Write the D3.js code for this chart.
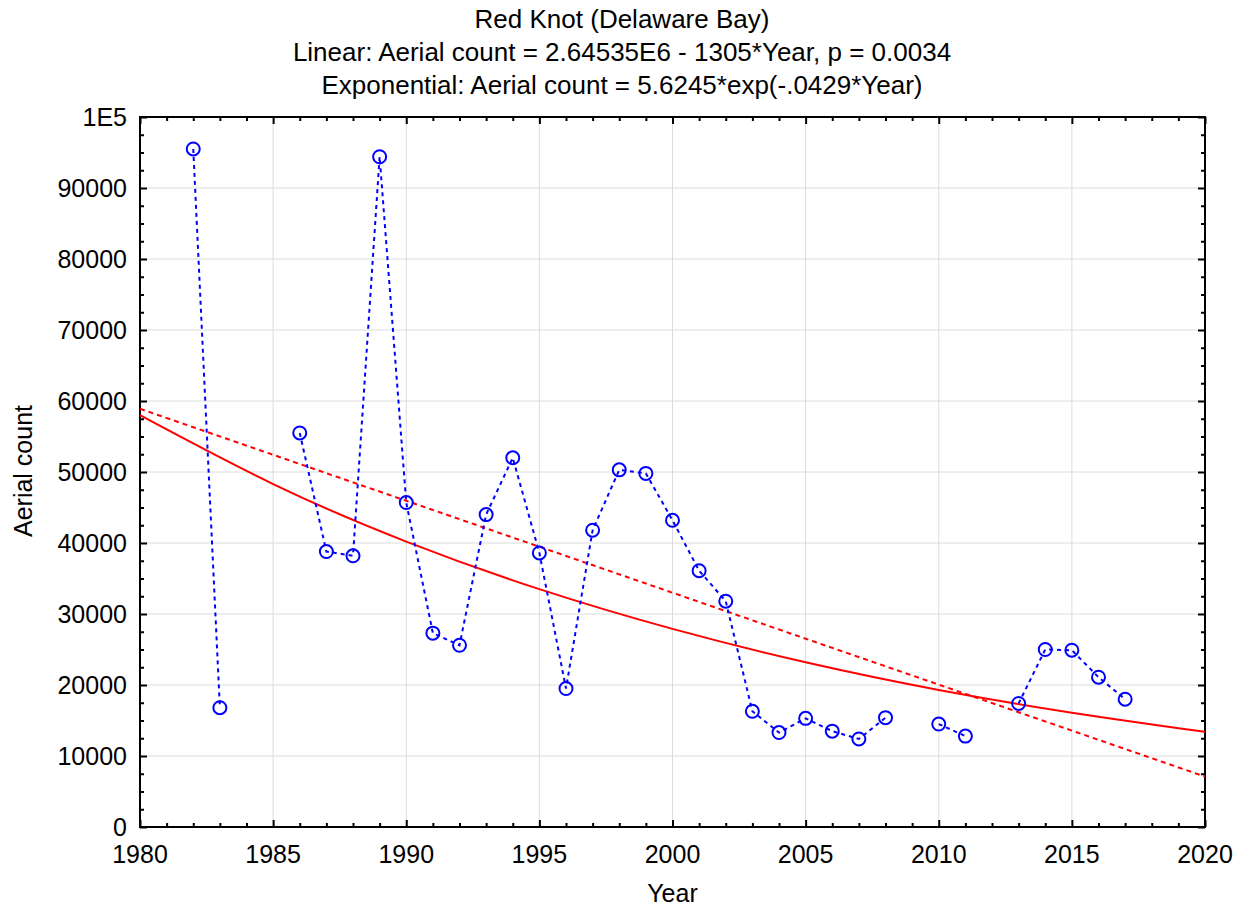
<!DOCTYPE html>
<html>
<head>
<meta charset="utf-8">
<script src="https://cdn.jsdelivr.net/npm/d3@7"></script>
<style>
  body { margin: 0; background: #fff; }
  text { font-family: "Liberation Sans", Arial, sans-serif; fill: #000; }
</style>
</head>
<body>
<div id="chart"></div>
<script>
// observed aerial counts (gaps = years with no survey)
const years = [1982, 1983, 1984, 1985, 1986, 1987, 1988, 1989, 1990, 1991, 1992, 1993, 1994, 1995,
  1996, 1997, 1998, 1999, 2000, 2001, 2002, 2003, 2004, 2005, 2006, 2007, 2008, 2009, 2010,
  2011, 2012, 2013, 2014, 2015, 2016, 2017];
const counts = [95500, 16800, null, null, 55500, 38800, 38200, 94400, 45700, 27300, 25600, 44000,
  52000, 38600, 19500, 41800, 50300, 49800, 43200, 36100, 31800, 16300, 13300, 15300, 13500,
  12400, 15400, null, 14500, 12800, null, 17400, 25000, 24900, 21100, 18000];

// linear fit, read at the ends of the axis
const linYears = [1980, 2020];
const linValues = [58900, 7100];

// exponential fit, read every 5 years
const expYears = [1980, 1985, 1990, 1995, 2000, 2005, 2010, 2015, 2020];
const expValues = [58000, 48300, 40200, 33500, 27900, 23200, 19300, 16100, 13400];

const xTicks = [1980, 1985, 1990, 1995, 2000, 2005, 2010, 2015, 2020];
const yTicks = [0, 10000, 20000, 30000, 40000, 50000, 60000, 70000, 80000, 90000, 100000];
const titleLines = ["Red Knot (Delaware Bay)",
  "Linear: Aerial count = 2.64535E6 - 1305*Year, p = 0.0034",
  "Exponential: Aerial count = 5.6245*exp(-.0429*Year)"];

const W = 1244, H = 909;
const margin = {top: 117, right: 39, bottom: 82, left: 140},
  width = W - margin.left - margin.right,
  height = H - margin.top - margin.bottom;

const svg = d3.select("#chart").append("svg")
  .attr("width", W).attr("height", H);

const g = svg.append("g")
  .attr("transform", `translate(${margin.left}, ${margin.top})`);

const x = d3.scaleLinear().domain([1980, 2020]).range([0, width]);
const y = d3.scaleLinear().domain([0, 100000]).range([height, 0]);

// grid
g.append("g").selectAll("line").data(xTicks.slice(1, -1)).join("line")
  .attr("x1", d => x(d)).attr("x2", d => x(d)).attr("y1", 0).attr("y2", height)
  .attr("stroke", "#dcdcdc").attr("stroke-width", 1);
g.append("g").selectAll("line").data(yTicks.slice(1, -1)).join("line")
  .attr("y1", d => y(d)).attr("y2", d => y(d)).attr("x1", 0).attr("x2", width)
  .attr("stroke", "#dcdcdc").attr("stroke-width", 1);

// inward ticks on all four sides
const xMinor = d3.range(1981, 2020).filter(v => v % 5 !== 0);
const yMinor = d3.range(2500, 100000, 2500).filter(v => v % 10000 !== 0);
function tickAxis(axisFn, scale, vals, size, tr) {
  const a = g.append("g").attr("transform", tr)
    .call(axisFn(scale).tickValues(vals).tickSizeInner(size).tickSizeOuter(0).tickFormat(""));
  a.select(".domain").remove();
  a.selectAll("line").attr("stroke", "#000").attr("stroke-width", 2);
}
tickAxis(d3.axisTop, x, xTicks, 7, `translate(0,${height})`);
tickAxis(d3.axisTop, x, xMinor, 4, `translate(0,${height})`);
tickAxis(d3.axisBottom, x, xTicks, 7, "translate(0,0)");
tickAxis(d3.axisBottom, x, xMinor, 4, "translate(0,0)");
tickAxis(d3.axisRight, y, yTicks, 7, "translate(0,0)");
tickAxis(d3.axisRight, y, yMinor, 4, "translate(0,0)");
tickAxis(d3.axisLeft, y, yTicks, 7, `translate(${width},0)`);
tickAxis(d3.axisLeft, y, yMinor, 4, `translate(${width},0)`);

// frame
g.append("rect").attr("width", width).attr("height", height)
  .attr("fill", "none").attr("stroke", "#000").attr("stroke-width", 2);

// tick labels
g.append("g").selectAll("text").data(xTicks).join("text")
  .attr("x", d => x(d)).attr("y", height + 36)
  .attr("text-anchor", "middle").attr("font-size", 25)
  .text(d => d);
g.append("g").selectAll("text").data(yTicks).join("text")
  .attr("x", -13).attr("y", d => y(d) + 9)
  .attr("text-anchor", "end").attr("font-size", 25)
  .text(d => d === 100000 ? "1E5" : d);

// axis titles
svg.append("text").attr("x", margin.left + width / 2).attr("y", 902)
  .attr("text-anchor", "middle").attr("font-size", 25).text("Year");
svg.append("text").attr("transform", `translate(32, 471) rotate(-90)`)
  .attr("text-anchor", "middle").attr("font-size", 25).text("Aerial count");

// title
svg.append("g").selectAll("text").data(titleLines).join("text")
  .attr("x", W / 2).attr("y", (d, i) => 28 + i * 33)
  .attr("text-anchor", "middle").attr("font-size", 26)
  .text(d => d);

// clip to plot area
g.append("clipPath").attr("id", "clip").append("rect")
  .attr("width", width).attr("height", height);
const plot = g.append("g").attr("clip-path", "url(#clip)");

// exponential fit
plot.append("path")
  .datum(expYears.map((d, i) => [d, expValues[i]]))
  .attr("d", d3.line().x(d => x(d[0])).y(d => y(d[1])).curve(d3.curveNatural))
  .attr("fill", "none").attr("stroke", "#ff0000").attr("stroke-width", 2);

// linear fit
plot.append("path")
  .datum(linYears.map((d, i) => [d, linValues[i]]))
  .attr("d", d3.line().x(d => x(d[0])).y(d => y(d[1])))
  .attr("fill", "none").attr("stroke", "#ff0000").attr("stroke-width", 2)
  .attr("stroke-dasharray", "5,4");

// observed series
const obs = years.map((d, i) => ({year: d, count: counts[i]}));
plot.append("path")
  .datum(obs)
  .attr("d", d3.line().defined(d => d.count !== null).x(d => x(d.year)).y(d => y(d.count)))
  .attr("fill", "none").attr("stroke", "#0000ff").attr("stroke-width", 2)
  .attr("stroke-dasharray", "4,4");

plot.append("g").selectAll("circle").data(obs.filter(d => d.count !== null)).join("circle")
  .attr("cx", d => x(d.year)).attr("cy", d => y(d.count)).attr("r", 6.5)
  .attr("fill", "none").attr("stroke", "#0000ff").attr("stroke-width", 2);
</script>
</body>
</html>
